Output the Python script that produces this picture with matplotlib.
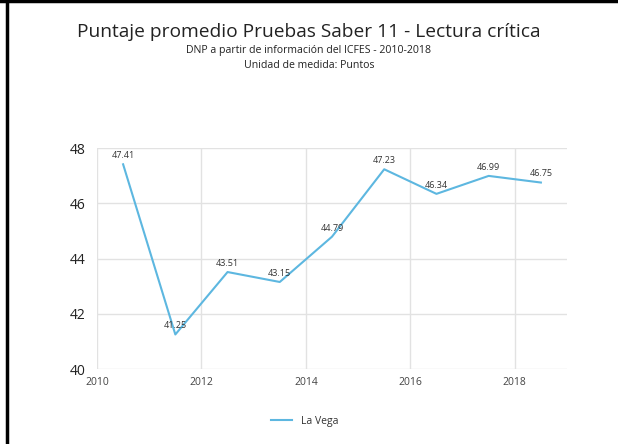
#!/usr/bin/env python
# -*- coding: utf-8 -*-
import matplotlib
matplotlib.use('Agg')
import matplotlib.pyplot as plt
from matplotlib.lines import Line2D

# Data
years = [2010.5, 2011.5, 2012.5, 2013.5, 2014.5, 2015.5, 2016.5, 2017.5, 2018.5]
puntaje = [47.41, 41.25, 43.51, 43.15, 44.79, 47.23, 46.34, 46.99, 46.75]
x_ticks = [2010, 2012, 2014, 2016, 2018]
y_ticks = [40, 42, 44, 46, 48]
serie = 'La Vega'

plt.rcParams['font.family'] = ['Open Sans', 'DejaVu Sans']
line_color = '#5db7e0'
grid_color = '#e2e2e2'

fig = plt.figure(figsize=(6.18, 4.44), dpi=100)
ax = fig.add_axes([97 / 618, 1 - 369 / 444, 470 / 618, 221 / 444])

ax.plot(years, puntaje, color=line_color, linewidth=1.5)
for x, y in zip(years, puntaje):
    ax.annotate('%.2f' % y, (x, y), xytext=(0, 3), textcoords='offset points',
                ha='center', va='bottom', fontsize=6.5, color='#333333')

ax.set_xlim(2010, 2019)
ax.set_ylim(40, 48)
ax.set_xticks(x_ticks)
ax.set_yticks(y_ticks)
ax.tick_params(axis='x', labelsize=7.5, colors='#444444', length=0, pad=6)
ax.tick_params(axis='y', labelsize=10, colors='#222222', length=0, pad=8)
ax.grid(True, color=grid_color, linewidth=1)
for side in ['top', 'right', 'bottom', 'left']:
    ax.spines[side].set_visible(False)
ax.set_axisbelow(True)

fig.text(0.5, 1 - 32 / 444, 'Puntaje promedio Pruebas Saber 11 - Lectura crítica',
         ha='center', va='center', fontsize=13.8, color='#222222')
fig.text(0.5, 1 - 50 / 444, 'DNP a partir de información del ICFES - 2010-2018',
         ha='center', va='center', fontsize=7.6, color='#222222')
fig.text(0.5, 1 - 65 / 444, 'Unidad de medida: Puntos',
         ha='center', va='center', fontsize=7.6, color='#222222')

handle = Line2D([], [], color=line_color, linewidth=1.5)
fig.legend([handle], [serie], loc='center', bbox_to_anchor=(0.493, 1 - 421 / 444),
           frameon=False, fontsize=7.5, handlelength=2, labelcolor='#333333')

# outer frame lines (left and top)
fig.add_artist(Line2D([7 / 618, 7 / 618], [0, 1], color='black', linewidth=2.5))
fig.add_artist(Line2D([0, 1], [1 - 1.5 / 444, 1 - 1.5 / 444], color='black', linewidth=2.5))

fig.savefig('out.png', dpi=100)
